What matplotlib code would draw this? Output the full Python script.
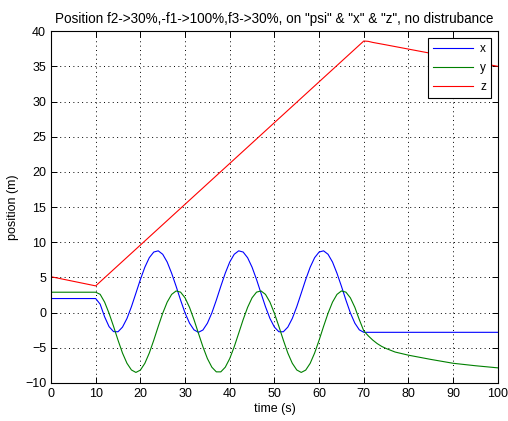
import matplotlib
matplotlib.use("Agg")
import matplotlib.pyplot as plt

plt.rcParams['font.family'] = ['Liberation Sans', 'DejaVu Sans']

# time samples (s)
t_xy = [0, 10, 11, 12, 13, 14, 15, 16, 17, 18, 19, 20, 21, 22, 23, 24, 25, 26, 27,
        28, 29, 30, 31, 32, 33, 34, 35, 36, 37, 38, 39, 40, 41, 42, 43, 44, 45, 46,
        47, 48, 49, 50, 51, 52, 53, 54, 55, 56, 57, 58, 59, 60, 61, 62, 63, 64, 65,
        66, 67, 68, 69, 70, 71, 72, 73, 74, 75, 77, 80, 85, 90, 95, 100]

x_pos = [2.0, 2.0, 1.2, -0.6, -2.0, -2.7, -2.72, -2.06, -0.83, 0.84, 2.76, 4.70,
         6.45, 7.81, 8.61, 8.78, 8.29, 7.19, 5.59, 3.74, 1.78, -0.05, -1.50, -2.45,
         -2.80, -2.47, -1.51, -0.04, 1.78, 3.74, 5.61, 7.19, 8.29, 8.78, 8.61, 7.80,
         6.45, 4.70, 2.76, 0.84, -0.83, -2.06, -2.72, -2.72, -2.06, -0.83, 0.84,
         2.76, 4.70, 6.45, 7.81, 8.61, 8.78, 8.29, 7.19, 5.59, 3.74, 1.78, -0.05,
         -1.50, -2.45, -2.80, -2.80, -2.80, -2.80, -2.80, -2.80, -2.80, -2.80,
         -2.80, -2.80, -2.80, -2.80]

y_pos = [2.9, 2.9, 2.6, 1.49, -0.11, -1.96, -3.92, -5.75, -7.20, -8.15, -8.50,
         -8.17, -7.21, -5.74, -3.92, -1.96, -0.09, 1.49, 2.59, 3.08, 2.91, 2.10,
         0.75, -1.00, -2.94, -4.86, -6.53, -7.76, -8.42, -8.42, -7.76, -6.53, -4.86,
         -2.94, -1.00, 0.75, 2.11, 2.91, 3.08, 2.59, 1.49, -0.11, -1.96, -3.92,
         -5.75, -7.20, -8.15, -8.50, -8.17, -7.21, -5.74, -3.92, -1.96, -0.09, 1.49,
         2.59, 3.08, 2.91, 2.10, 0.75, -1.00, -2.60, -3.30, -3.90, -4.40, -4.80,
         -5.10, -5.60, -6.05, -6.65, -7.20, -7.55, -7.85]

t_z = [0, 10, 70, 71, 72, 75, 80, 85, 90, 95, 100]
z_pos = [5.1, 3.8, 38.6, 38.55, 38.4, 38.05, 37.45, 36.85, 36.2, 35.6, 35.0]

fig = plt.figure(figsize=(5.08, 4.21), dpi=100)
ax = fig.add_axes([0.1004, 0.0903, 0.8796, 0.8357])

ax.plot(t_xy, x_pos, color='#0000ff', lw=0.8, label='x')
ax.plot(t_xy, y_pos, color='#008000', lw=0.8, label='y')
ax.plot(t_z, z_pos, color='#ff0000', lw=0.8, label='z')

ax.set_xlim(0, 100)
ax.set_ylim(-10, 40)
ax.set_xticks(range(0, 101, 10))
ax.set_yticks(range(-10, 41, 5))
ax.grid(True, linestyle=(0, (1, 3.5)), color='black', lw=0.7)
ax.tick_params(direction='in', top=True, right=True, labelsize=9, length=4, width=0.7)
for s in ax.spines.values():
    s.set_linewidth(0.8)

ax.set_xlabel('time (s)', fontsize=9, labelpad=2)
ax.set_ylabel('position (m)', fontsize=9, labelpad=4)
ax.set_title('Position f2->30%,-f1->100%,f3->30%, on "psi" & "x" & "z", no distrubance',
             fontsize=9.75, pad=6)

leg = ax.legend(loc='upper right', fontsize=8.5, fancybox=False, framealpha=1,
                edgecolor='black', handlelength=3.4, handletextpad=0.6,
                borderaxespad=0.6, labelspacing=0.6)
leg.get_frame().set_linewidth(0.8)

fig.savefig('out.png', dpi=100)
